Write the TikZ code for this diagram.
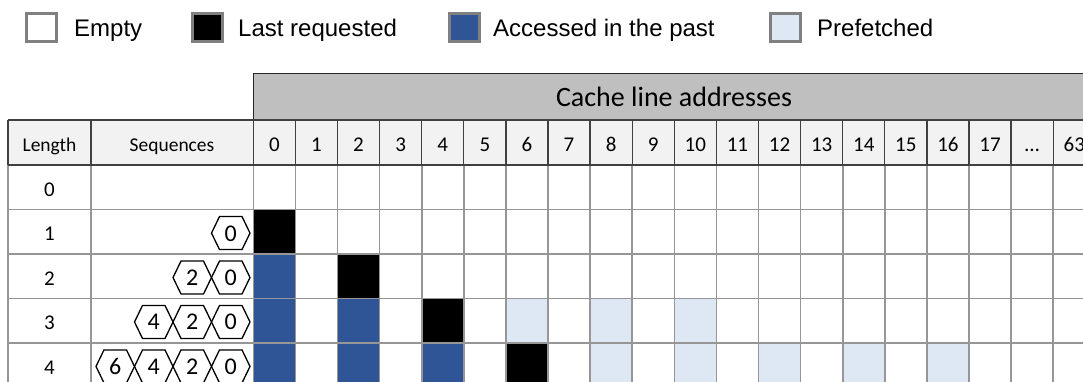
\documentclass[tikz,border=0pt]{standalone}
\usepackage{fontspec}
\setmainfont{Carlito}
\newfontfamily\legendfont{Liberation Sans}

\definecolor{accblue}{HTML}{2F5597}
\definecolor{prefblue}{HTML}{DEE8F5}
\definecolor{bandgray}{HTML}{BFBFBF}
\definecolor{headgray}{HTML}{F2F2F2}
\definecolor{gridgray}{HTML}{969696}
\definecolor{headline}{HTML}{404040}
\definecolor{legendedge}{HTML}{808080}

\begin{document}
\begin{tikzpicture}[x=1pt,y=-1pt,
  legbox/.style={draw=legendedge, line width=2.6pt, minimum width=30pt, minimum height=28pt, inner sep=0pt, outer sep=0pt},
  legtext/.style={anchor=base west, inner sep=0pt, font=\legendfont\fontsize{24}{28}\selectfont},
  celltext/.style={anchor=base, inner sep=0pt, font=\fontsize{19.5}{24}\selectfont},
  numtext/.style={anchor=base, inner sep=0pt, font=\fontsize{21}{25}\selectfont},
  hextext/.style={anchor=base, inner sep=0pt, font=\fontsize{24}{28}\selectfont},
  bandtext/.style={anchor=base, inner sep=0pt, font=\fontsize{28}{32}\selectfont},
  headrule/.style={draw=headline, line width=1.3pt},
  bodyrule/.style={draw=gridgray, line width=1.6pt},
  seqhex/.style={draw=black, line width=1.3pt, fill=white, line join=miter}]

\useasboundingbox (0,0) rectangle (1083,382);
\fill[white] (0,0) rectangle (1083,382);

% ---------- legend ----------
\node[legbox, fill=white]    (bxEmpty) at (41.5,27.5) {};
\node[legtext] (lgEmpty) at (74,36.5) {Empty};
\node[legbox, fill=black]    (bxLast)  at (207.3,27.5) {};
\node[legtext] (lgLast) at (238,36.5) {Last requested};
\node[legbox, fill=accblue]  (bxPast)  at (464.2,27.5) {};
\node[legtext] (lgPast) at (493,36.5) {Accessed in the past};
\node[legbox, fill=prefblue] (bxPref)  at (785.5,27.5) {};
\node[legtext] (lgPref) at (817,36.5) {Prefetched};

% ---------- table geometry ----------
\def\colx{253.3}  % left edge of column 0
\def\colw{42.1}   % address column width
\def\rowy{165}    % top of row "0"
\def\rowh{44.45}  % body row height

\begin{scope}
\clip (0,0) rectangle (1083,382);

% title band over the address columns
\draw[fill=bandgray, draw=black!85, line width=1pt] (\colx,74) rectangle (1110,120);
\node[bandtext] (bandTitle) at (674,106.5) {Cache line addresses};

% header row
\fill[headgray] (8,120) rectangle (1110,165);
\node[celltext] (hLength) at (49.5,151.5) {Length};
\node[celltext] (hSeq) at (172,151.5) {Sequences};
\foreach \lab [count=\i from 0] in {0,1,2,3,4,5,6,7,8,9,10,11,12,13,14,15,16,17,\dots,63} {
  \node[numtext] (hc\i) at ({\colx+(\i+0.5)*\colw},151.5) {\lab};
}

% cell states: row/column/colour
\foreach \r/\c/\col in {1/0/black,
                        2/0/accblue, 2/2/black,
                        3/0/accblue, 3/2/accblue, 3/4/black, 3/6/prefblue, 3/8/prefblue, 3/10/prefblue,
                        4/0/accblue, 4/2/accblue, 4/4/accblue, 4/6/black, 4/8/prefblue, 4/10/prefblue,
                        4/12/prefblue, 4/14/prefblue, 4/16/prefblue} {
  \fill[\col] ({\colx+\c*\colw},{\rowy+\r*\rowh}) rectangle ++(\colw,\rowh);
}

% body grid
\foreach \k in {1,...,5} {
  \draw[bodyrule] (8,{\rowy+\k*\rowh}) -- (1110,{\rowy+\k*\rowh});
}
\foreach \xx in {8,91} {
  \draw[bodyrule] (\xx,165) -- (\xx,400);
}
\foreach \i in {0,...,20} {
  \draw[bodyrule] ({\colx+\i*\colw},165) -- ({\colx+\i*\colw},400);
}

% header grid
\draw[headrule] (8,120) -- (1110,120);
\draw[headrule] (8,165) -- (1110,165);
\foreach \xx in {8,91} {
  \draw[headrule] (\xx,120) -- (\xx,165);
}
\foreach \i in {0,...,20} {
  \draw[headrule] ({\colx+\i*\colw},120) -- ({\colx+\i*\colw},165);
}

% length column
\foreach \r in {0,...,4} {
  \node[numtext] (len\r) at (49.5,{\rowy+\r*\rowh+31.5}) {\r};
}

% sequences: chains of hexagons, newest address on the left
\foreach \r in {1,...,4} {
  \pgfmathtruncatemacro{\last}{\r-1}
  \foreach \j in {0,...,\last} {
    \pgfmathsetmacro{\xr}{250-38.5*\j}
    \pgfmathsetmacro{\xl}{\xr-38.5}
    \pgfmathsetmacro{\cy}{\rowy+\r*\rowh+\rowh/2+1.4}
    \pgfmathtruncatemacro{\addr}{2*\j}
    \draw[seqhex] (\xl,\cy) -- ({\xl+8},{\cy-16.5}) -- ({\xr-8},{\cy-16.5})
      -- (\xr,\cy) -- ({\xr-8},{\cy+16.5}) -- ({\xl+8},{\cy+16.5}) -- cycle;
    \node[hextext] (seq\r-\j) at ({(\xl+\xr)/2},{\rowy+\r*\rowh+31.6}) {\addr};
  }
}
\end{scope}
\end{tikzpicture}
\end{document}
